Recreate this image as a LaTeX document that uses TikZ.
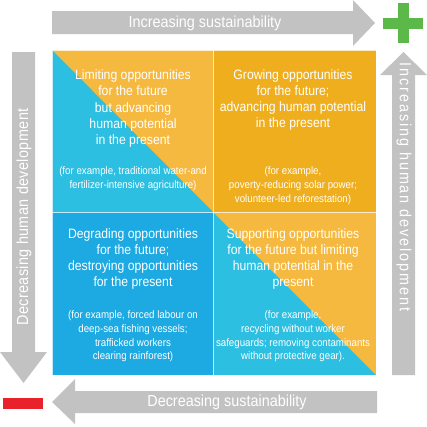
\documentclass[tikz,border=0pt]{standalone}
\usepackage{fontspec}
\setmainfont{Liberation Sans}[FakeStretch=0.90]
\definecolor{grayA}{HTML}{C2C2C2}
\definecolor{orangeL}{HTML}{F5B940}
\definecolor{orangeD}{HTML}{EFAE1E}
\definecolor{cyanQ}{HTML}{2CBFE2}
\definecolor{blueQ}{HTML}{1DA9E1}
\definecolor{greenP}{HTML}{5CB848}
\definecolor{redM}{HTML}{E9212B}
\begin{document}
\begin{tikzpicture}[x=1pt,y=-1pt,
  arrowfill/.style={fill=grayA},
  lbl/.style={text=white, font=\fontsize{16}{18}\selectfont, inner sep=0},
  ttl/.style={text=white, align=center, font=\fontsize{13.6}{16.3}\selectfont, inner sep=0},
  exm/.style={text=white, align=center, font=\fontsize{10.8}{13.7}\selectfont, inner sep=0},
  sepline/.style={draw=white, line width=0.8pt, draw opacity=0.75}]
\useasboundingbox (0,0) rectangle (427,426);
% quadrants
\fill[orangeL] (52,50) rectangle (213,212);
\fill[cyanQ] (52,50) -- (52,212) -- (213,212) -- cycle;
\fill[orangeD] (213,50) rectangle (376,212);
\fill[blueQ] (52,212) rectangle (213,375);
\fill[orangeL] (213,212) rectangle (376,375);
\fill[cyanQ] (213,212) -- (213,375) -- (376,375) -- cycle;
\draw[sepline] (52,50) rectangle (376,375);
\draw[sepline] (213,50) -- (213,375);
\draw[sepline] (52,212) -- (376,212);
% arrows
\fill[arrowfill] (52,11) -- (353,11) -- (353,0) -- (375,23) -- (353,46) -- (353,34) -- (52,34) -- cycle;
\fill[arrowfill] (392,375) -- (392,75) -- (380,75) -- (403.5,52) -- (427,75) -- (415,75) -- (415,375) -- cycle;
\fill[arrowfill] (12,52) -- (35,52) -- (35,352) -- (47,352) -- (23.5,383) -- (0,352) -- (12,352) -- cycle;
\fill[arrowfill] (377,391) -- (75,391) -- (75,379) -- (52,402) -- (75,424) -- (75,413) -- (377,413) -- cycle;
% plus / minus
\fill[greenP] (397.5,3) rectangle (408.5,43);
\fill[greenP] (383,17.5) rectangle (423,28.5);
\fill[redM] (3,398) rectangle (43,409);
% arrow labels
\node[lbl] (top) at (205,23) {Increasing sustainability};
\node[lbl] (bot) at (227,402) {Decreasing sustainability};
\node[lbl, rotate=90] (left) at (24,217) {\addfontfeature{LetterSpace=2.5}Decreasing human development};
\node[lbl, rotate=-90] (right) at (404,187) {\addfontfeature{LetterSpace=12}Increasing human development};
% quadrant texts
\node[ttl] (tlT) at (133,108.5) {Limiting opportunities\\for the future\\but advancing\\human potential\\in the present};
\node[exm] (tlE) at (133,179) {(for example, traditional water-and\\fertilizer-intensive agriculture)};
\node[ttl] (trT) at (293,100) {Growing opportunities\\for the future;\\advancing human potential\\in the present};
\node[exm] (trE) at (293,185.5) {(for example,\\poverty-reducing solar power;\\volunteer-led reforestation)};
\node[ttl] (blT) at (133,259) {Degrading opportunities\\for the future;\\destroying opportunities\\for the present};
\node[exm] (blE) at (133,336.5) {(for example, forced labour on\\deep-sea fishing vessels;\\trafficked workers\\clearing rainforest)};
\node[ttl] (brT) at (293,259) {Supporting opportunities\\for the future but limiting\\human potential in the\\present};
\node[exm] (brE) at (293,336.5) {(for example,\\recycling without worker\\safeguards; removing contaminants\\without protective gear).};
\end{tikzpicture}
\end{document}
